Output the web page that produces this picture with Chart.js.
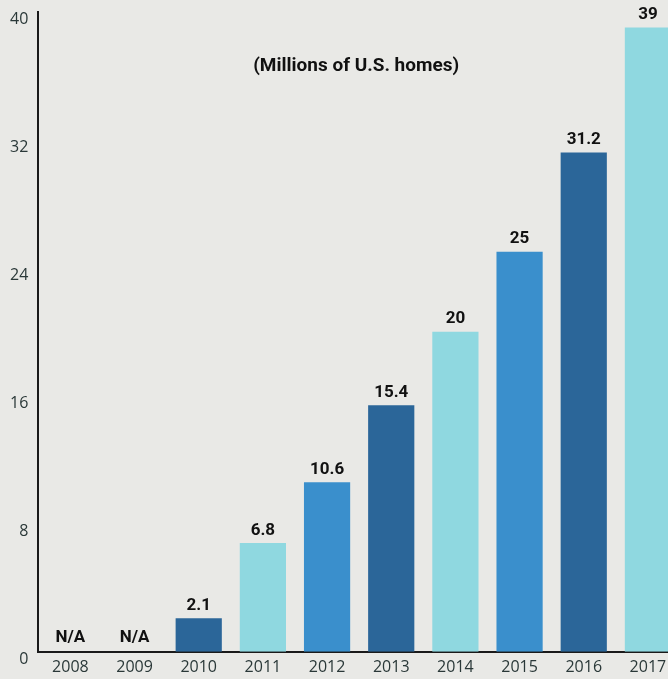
<!DOCTYPE html>
<html>
<head>
<meta charset="utf-8">
<script src="https://cdn.jsdelivr.net/npm/chart.js"></script>
<title>Millions of U.S. homes</title>
<style>
  html, body { margin: 0; padding: 0; background: #e9e9e6; overflow: hidden; }
  #wrap { width: 680px; height: 691px; margin-top: -8px; }
</style>
</head>
<body>
<div id="wrap"><canvas id="homesChart"></canvas></div>
<script>
const years = ['2008', '2009', '2010', '2011', '2012', '2013', '2014', '2015', '2016', '2017'];
const homes = [null, null, 2.1, 6.8, 10.6, 15.4, 20, 25, 31.2, 39];
const valueLabels = ['N/A', 'N/A', '2.1', '6.8', '10.6', '15.4', '20', '25', '31.2', '39'];
const yTicks = [0, 8, 16, 24, 32, 40];

const dark = '#2b6699';
const mid = '#3a8fcc';
const light = '#8fd8e0';
const barColors = ['#000', '#000', dark, light, mid, dark, light, mid, dark, light];

// value labels above each bar, N/A sitting on the baseline
const barLabels = {
  id: 'barLabels',
  afterDatasetsDraw(chart) {
    const ctx = chart.ctx;
    const x = chart.scales.x, y = chart.scales.y;
    ctx.save();
    ctx.fillStyle = '#111';
    ctx.font = 'bold 17px "Roboto"';
    ctx.textAlign = 'center';
    ctx.textBaseline = 'bottom';
    years.forEach((yr, i) => {
      const v = homes[i];
      const px = x.getPixelForValue(i);
      const py = v === null ? y.getPixelForValue(0) - 6 : y.getPixelForValue(v) - 4;
      ctx.fillText(valueLabels[i], px, py);
    });
    ctx.font = 'bold 19px "Roboto"';
    ctx.textBaseline = 'middle';
    ctx.fillText('(Millions of U.S. homes)', x.getPixelForValue(4.5) - 3, y.getPixelForValue(36.6));
    ctx.restore();
  }
};

new Chart(document.getElementById('homesChart'), {
  type: 'bar',
  data: {
    labels: years,
    datasets: [{
      data: homes,
      backgroundColor: barColors,
      categoryPercentage: 1,
      barPercentage: 0.72
    }]
  },
  options: {
    responsive: true,
    maintainAspectRatio: false,
    animation: false,
    layout: { padding: { left: 0, top: 2, right: 0, bottom: 0 } },
    plugins: { legend: { display: false }, tooltip: { enabled: false } },
    scales: {
      x: {
        grid: { display: false, drawTicks: false },
        border: { display: true, color: '#1a1a1a', width: 2 },
        ticks: { color: '#2a3838', font: { family: 'Open Sans', size: 16 }, padding: 6 }
      },
      y: {
        min: 0,
        max: 40,
        afterBuildTicks(scale) { scale.ticks = yTicks.map(v => ({ value: v })); },
        grid: { display: false, drawTicks: false },
        border: { display: true, color: '#1a1a1a', width: 2 },
        ticks: { color: '#2a3838', font: { family: 'Open Sans', size: 16 }, padding: 10, labelOffset: 8 }
      }
    }
  },
  plugins: [barLabels]
});
</script>
</body>
</html>
